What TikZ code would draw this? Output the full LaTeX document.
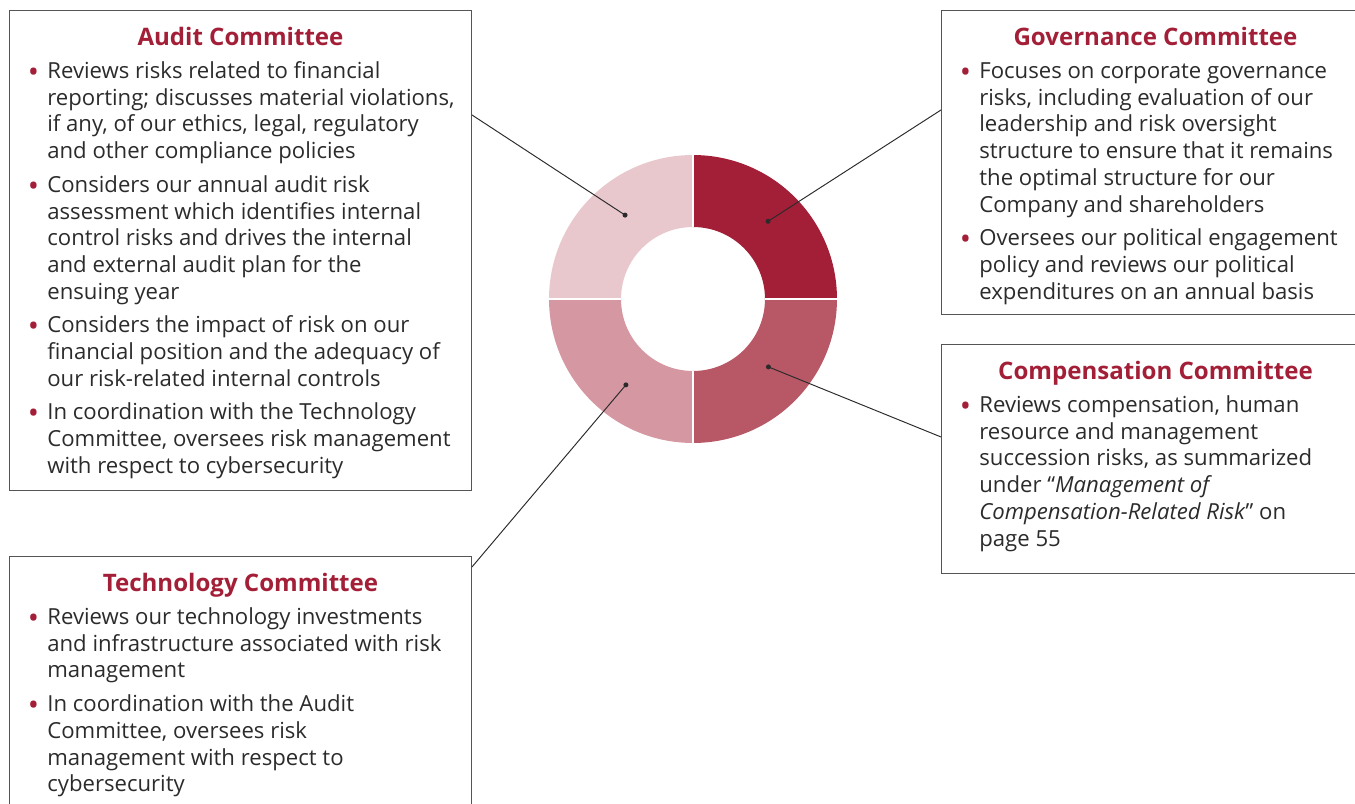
\documentclass[tikz,border=0pt]{standalone}
\usepackage{fontspec}
\setmainfont{Open Sans}
\usepackage{xcolor}
\usepackage{tikz}
\usetikzlibrary{positioning}
\definecolor{riskred}{HTML}{A31F37}
\definecolor{ringdark}{HTML}{A31F37}
\definecolor{ringmid}{HTML}{B85765}
\definecolor{ringsoft}{HTML}{D597A2}
\definecolor{ringpale}{HTML}{E8C7CD}
\definecolor{bodygray}{HTML}{2B2B2B}
\definecolor{framegray}{HTML}{555555}
\newcommand{\riskitem}[1]{%
  \noindent\hangindent=0.34cm\hangafter=1%
  \makebox[0.34cm][l]{\hspace{-0.05cm}\raisebox{-2.2pt}{\textcolor{riskred}{\fontsize{17}{0}\selectfont\textbullet}}}#1\par\vspace{0.14cm}}
\tikzset{
  committee/.style={
    draw=framegray,
    line width=0.6pt,
    anchor=north west,
    inner sep=0pt
  },
  committeetitle/.style={
    font=\fontsize{13.7}{15}\selectfont\bfseries,
    text=riskred,
    inner sep=0pt
  },
  committeebody/.style={
    font=\fontsize{12.6}{15.2}\selectfont,
    text=bodygray,
    inner sep=0pt
  },
  leader/.style={
    draw=bodygray,
    line width=0.55pt
  },
  pin/.style={
    fill=bodygray
  }
}

\begin{document}
\begin{tikzpicture}[x=0.02cm, y=-0.02cm]
    \useasboundingbox (0,0) rectangle (1355,804);
    \clip (0,0) rectangle (1355,804);

    % committee panels
    \node[committee, minimum width=9.24cm, minimum height=9.6cm] (audit) at (9,10) {};
    \node[committeetitle, below=0.71cm of audit.north, anchor=base] (audittitle) {Audit Committee};
    \node[committeebody, below right=1.37cm and 0.42cm of audit.north west, anchor=base west] (auditbody) {\parbox[t]{9.5cm}{%
        \riskitem{Reviews risks related to financial\\
            reporting; discusses material violations,\\
            if any, of our ethics, legal, regulatory\\
            and other compliance policies}
        \riskitem{Considers our annual audit risk\\
            assessment which identifies internal\\
            control risks and drives the internal\\
            and external audit plan for the\\
            ensuing year}
        \riskitem{Considers the impact of risk on our\\
            financial position and the adequacy of\\
            our risk-related internal controls}
        \riskitem{In coordination with the Technology\\
            Committee, oversees risk management\\
            with respect to cybersecurity}}};

    \node[committee, minimum width=8.56cm, minimum height=6.08cm] (governance) at (941,10) {};
    \node[committeetitle, below=0.71cm of governance.north, anchor=base] (governancetitle) {Governance Committee};
    \node[committeebody, below right=1.37cm and 0.42cm of governance.north west, anchor=base west] (governancebody) {\parbox[t]{8.8cm}{%
        \riskitem{Focuses on corporate governance\\
            risks, including evaluation of our\\
            leadership and risk oversight\\
            structure to ensure that it remains\\
            the optimal structure for our\\
            Company and shareholders}
        \riskitem{Oversees our political engagement\\
            policy and reviews our political\\
            expenditures on an annual basis}}};

    \node[committee, minimum width=8.56cm, minimum height=4.58cm] (compensation) at (941,344) {};
    \node[committeetitle, below=0.71cm of compensation.north, anchor=base] (compensationtitle) {Compensation Committee};
    \node[committeebody, below right=1.37cm and 0.42cm of compensation.north west, anchor=base west] (compensationbody) {\parbox[t]{8.8cm}{%
        \riskitem{Reviews compensation, human\\
            resource and management\\
            succession risks, as summarized\\
            under “\textit{Management of}\\
            \textit{Compensation-Related Risk}” on\\
            page 55}}};

    \node[committee, minimum width=9.24cm, minimum height=5.6cm] (technology) at (9,556) {};
    \node[committeetitle, below=0.71cm of technology.north, anchor=base] (technologytitle) {Technology Committee};
    \node[committeebody, below right=1.37cm and 0.42cm of technology.north west, anchor=base west] (technologybody) {\parbox[t]{9.5cm}{%
        \riskitem{Reviews our technology investments\\
            and infrastructure associated with risk\\
            management}
        \riskitem{In coordination with the Audit\\
            Committee, oversees risk\\
            management with respect to\\
            cybersecurity}}};

    % ring of four quarters
    \begin{scope}[shift={(693,299)}, x=1cm, y=1cm]
        \fill[ringdark] (0:2.88) arc[start angle=0, end angle=90, radius=2.88] -- (90:1.44) arc[start angle=90, end angle=0, radius=1.44] -- cycle;
        \fill[ringpale] (90:2.88) arc[start angle=90, end angle=180, radius=2.88] -- (180:1.44) arc[start angle=180, end angle=90, radius=1.44] -- cycle;
        \fill[ringsoft] (180:2.88) arc[start angle=180, end angle=270, radius=2.88] -- (270:1.44) arc[start angle=270, end angle=180, radius=1.44] -- cycle;
        \fill[ringmid] (270:2.88) arc[start angle=270, end angle=360, radius=2.88] -- (0:1.44) arc[start angle=360, end angle=270, radius=1.44] -- cycle;
        \draw[white, line width=0.6pt] (0:1.44) -- (0:2.88) (90:1.44) -- (90:2.88)
            (180:1.44) -- (180:2.88) (270:1.44) -- (270:2.88);
        \coordinate (auditpin) at (129:2.16);
        \coordinate (governancepin) at (46:2.16);
        \coordinate (compensationpin) at (-42:2.03);
        \coordinate (technologypin) at (-128:2.18);
    \end{scope}

    % leaders
    \draw[leader] ([yshift=-2.1cm]audit.north east) -- (auditpin);
    \draw[leader] ([yshift=-2.0cm]governance.north west) -- (governancepin);
    \draw[leader] ([yshift=-1.86cm]compensation.north west) -- (compensationpin);
    \draw[leader] ([yshift=-0.22cm]technology.north east) -- (technologypin);
    \fill[pin] (auditpin) circle[radius=0.05cm];
    \fill[pin] (governancepin) circle[radius=0.05cm];
    \fill[pin] (compensationpin) circle[radius=0.05cm];
    \fill[pin] (technologypin) circle[radius=0.05cm];
\end{tikzpicture}
\end{document}
